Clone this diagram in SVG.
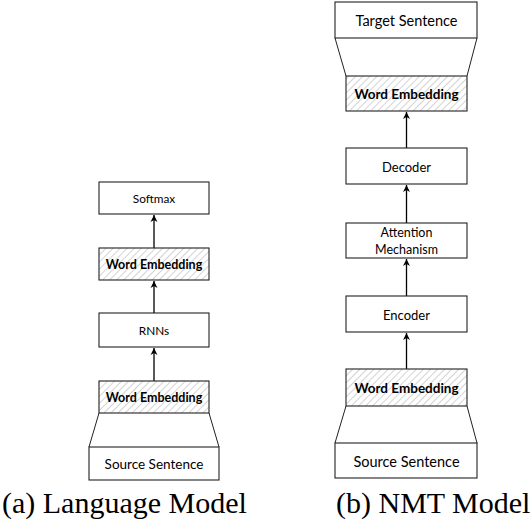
<svg xmlns="http://www.w3.org/2000/svg" width="532" height="526" viewBox="0 0 532 526">
<style>
.box{fill:#fff;stroke:#222;stroke-width:1.1}
.hb{fill:url(#hatch);stroke:#222;stroke-width:1.1}
.t{font-family:Lato,"Open Sans",sans-serif;fill:#000;text-anchor:middle;dominant-baseline:central}
.b{font-weight:bold}
.cap{font-family:"Liberation Serif","Times New Roman",serif;font-size:30px;fill:#000}
.c{stroke:#000;stroke-width:1.3;fill:none}
.tl{stroke:#222;stroke-width:1;fill:none}
</style>
<defs>
<pattern id="hatch" patternUnits="userSpaceOnUse" width="5" height="5" patternTransform="rotate(45)">
<rect width="5" height="5" fill="#fff"/>
<line x1="0" y1="0" x2="0" y2="5" stroke="#c8c8c8" stroke-width="1.6"/>
</pattern>
<marker id="ah" markerWidth="8" markerHeight="8" refX="7" refY="4" orient="auto" markerUnits="userSpaceOnUse">
<path d="M0,0.5 L7,4 L0,7.5 L2,4 z" fill="#000"/>
</marker>
</defs>

<g id="connectors">
<line class="c" x1="154" y1="381" x2="154" y2="348" marker-end="url(#ah)"/>
<line class="c" x1="154" y1="313" x2="154" y2="281" marker-end="url(#ah)"/>
<line class="c" x1="154" y1="248" x2="154" y2="215" marker-end="url(#ah)"/>
<line class="tl" x1="99" y1="413" x2="89" y2="447"/>
<line class="tl" x1="209" y1="413" x2="219" y2="447"/>
<line class="c" x1="406.5" y1="369" x2="406.5" y2="333" marker-end="url(#ah)"/>
<line class="c" x1="406.5" y1="296" x2="406.5" y2="259" marker-end="url(#ah)"/>
<line class="c" x1="406.5" y1="223" x2="406.5" y2="185" marker-end="url(#ah)"/>
<line class="c" x1="406.5" y1="148" x2="406.5" y2="112" marker-end="url(#ah)"/>
<line class="tl" x1="346" y1="406" x2="335" y2="443"/>
<line class="tl" x1="467" y1="406" x2="477" y2="443"/>
<line class="tl" x1="335" y1="38" x2="346" y2="76"/>
<line class="tl" x1="477" y1="38" x2="467" y2="76"/>
</g>

<g id="lm-softmax"><rect class="box" x="99" y="182" width="110" height="32"/><text class="t" x="154" y="198" font-size="11.8">Softmax</text></g>
<g id="lm-we-top"><rect class="hb" x="99" y="248" width="110" height="32"/><text class="t b" x="154" y="264.5" font-size="12.5">Word Embedding</text></g>
<g id="lm-rnns"><rect class="box" x="99" y="313" width="110" height="34"/><text class="t" x="154" y="330" font-size="11.8">RNNs</text></g>
<g id="lm-we-bottom"><rect class="hb" x="99" y="381" width="110" height="32"/><text class="t b" x="154" y="397.5" font-size="12.5">Word Embedding</text></g>
<g id="lm-source"><rect class="box" x="89" y="447" width="130" height="33"/><text class="t" x="154" y="463.5" font-size="13.5">Source Sentence</text></g>

<g id="nmt-target"><rect class="box" x="335" y="2" width="142" height="36"/><text class="t" x="406.5" y="20" font-size="14.5">Target Sentence</text></g>
<g id="nmt-we-top"><rect class="hb" x="346" y="76" width="121" height="35"/><text class="t b" x="406.5" y="94" font-size="13.5">Word Embedding</text></g>
<g id="nmt-decoder"><rect class="box" x="346" y="148" width="121" height="36"/><text class="t" x="406.5" y="166.5" font-size="13">Decoder</text></g>
<g id="nmt-attention"><rect class="box" x="346" y="223" width="121" height="35"/><text class="t" x="406.5" y="232.5" font-size="12.5">Attention</text><text class="t" x="406.5" y="249" font-size="12.5">Mechanism</text></g>
<g id="nmt-encoder"><rect class="box" x="346" y="296" width="121" height="36"/><text class="t" x="406.5" y="314.5" font-size="13">Encoder</text></g>
<g id="nmt-we-bottom"><rect class="hb" x="346" y="369" width="121" height="37"/><text class="t b" x="406.5" y="388" font-size="13.5">Word Embedding</text></g>
<g id="nmt-source"><rect class="box" x="335" y="443" width="142" height="35"/><text class="t" x="406.5" y="461" font-size="14.5">Source Sentence</text></g>

<text class="cap" x="2" y="513">(a) Language Model</text>
<text class="cap" x="336" y="513">(b) NMT Model</text>
</svg>
